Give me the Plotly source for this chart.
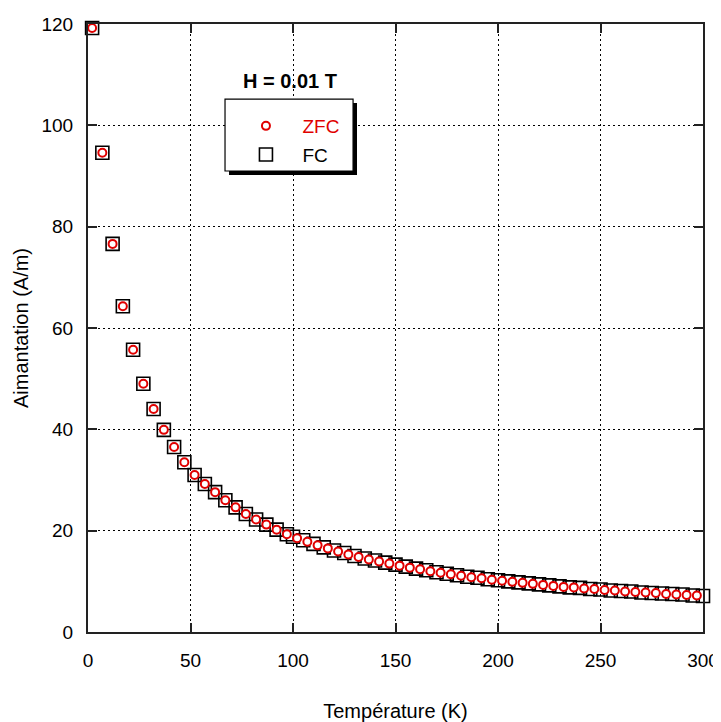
import plotly.graph_objects as go

# ZFC data
T_zfc = [2, 7, 12, 17, 22, 27, 32, 37, 42, 47, 52, 57, 62, 67, 72, 77, 82, 87, 92, 97,
         102, 107, 112, 117, 122, 127, 132, 137, 142, 147, 152, 157, 162, 167, 172, 177,
         182, 187, 192, 197, 202, 207, 212, 217, 222, 227, 232, 237, 242, 247, 252, 257,
         262, 267, 272, 277, 282, 287, 292, 297]
M_zfc = [119.2, 94.6, 76.6, 64.3, 55.7, 49.0, 44.0, 39.9, 36.5, 33.5, 31.0, 29.2, 27.6, 26.0,
         24.6, 23.3, 22.2, 21.2, 20.2, 19.3, 18.5, 17.8, 17.1, 16.5, 15.9, 15.3, 14.8, 14.3,
         13.9, 13.5, 13.1, 12.7, 12.4, 12.0, 11.7, 11.4, 11.1, 10.8, 10.6, 10.3, 10.1, 9.9,
         9.7, 9.5, 9.3, 9.1, 8.9, 8.8, 8.6, 8.5, 8.3, 8.2, 8.0, 7.9, 7.8, 7.7, 7.5, 7.4,
         7.3, 7.2]

# FC data
T_fc = [2, 7, 12, 17, 22, 27, 32, 37, 42, 47, 52, 57, 62, 67, 72, 77, 82, 87, 92, 97,
        100, 105, 110, 115, 120, 125, 130, 135, 140, 145, 150, 155, 160, 165, 170, 175,
        180, 185, 190, 195, 200, 205, 210, 215, 220, 225, 230, 235, 240, 245, 250, 255,
        260, 265, 270, 275, 280, 285, 290, 295, 300]
M_fc = [119.2, 94.6, 76.6, 64.3, 55.7, 49.0, 44.0, 39.9, 36.5, 33.5, 31.0, 29.2, 27.6, 26.0,
        24.6, 23.3, 22.2, 21.2, 20.2, 19.3, 18.8, 18.1, 17.4, 16.7, 16.1, 15.6, 15.0, 14.5,
        14.1, 13.7, 13.3, 12.9, 12.5, 12.2, 11.8, 11.5, 11.2, 10.9, 10.7, 10.4, 10.2, 10.0,
        9.8, 9.6, 9.4, 9.2, 9.0, 8.8, 8.7, 8.5, 8.4, 8.2, 8.1, 8.0, 7.8, 7.7, 7.6, 7.5,
        7.4, 7.2, 7.1]

x_ticks = [0, 50, 100, 150, 200, 250, 300]
y_ticks = [0, 20, 40, 60, 80, 100, 120]

FONT = "Liberation Sans, Arial, sans-serif"

fig = go.Figure()
fig.add_trace(go.Scatter(
    x=T_fc, y=M_fc, mode="markers", name="FC", legendrank=2, legendgroup="b",
    cliponaxis=False,
    marker=dict(symbol="square-open", size=13, color="black", line=dict(width=1.6, color="black")),
))
fig.add_trace(go.Scatter(
    x=T_zfc, y=M_zfc, mode="markers", name='<span style="color:#e00000">ZFC</span>',
    legendrank=1, legendgroup="a", cliponaxis=False,
    marker=dict(symbol="circle", size=8, color="white", line=dict(width=2, color="#e00000")),
))

# legend box with shadow
fig.add_shape(type="rect", xref="paper", yref="paper",
              x0=0.2293, x1=0.4374, y0=0.7516, y1=0.8701,
              fillcolor="black", line=dict(width=0), layer="above")
fig.add_shape(type="rect", xref="paper", yref="paper",
              x0=0.2228, x1=0.431, y0=0.7582, y1=0.8766,
              fillcolor="white", line=dict(width=1.2, color="black"), layer="above")

fig.add_annotation(text="<b>H = 0.01 T</b>", xref="paper", yref="paper",
                   x=0.329, y=0.906, xanchor="center", yanchor="middle", showarrow=False,
                   font=dict(family=FONT, size=20, color="black"))

axis_common = dict(
    showline=True, linecolor="#222", linewidth=2, mirror="ticks",
    ticks="inside", ticklen=9, tickwidth=1.5, tickcolor="#222",
    showgrid=True, gridcolor="black", gridwidth=1, griddash="2px,3px",
    zeroline=False, automargin=False,
    tickfont=dict(family=FONT, size=19, color="black"),
)

fig.update_xaxes(range=[0, 300], tickvals=x_ticks, ticktext=[str(v) for v in x_ticks],
                 title=dict(text="Température (K)", font=dict(family=FONT, size=20, color="black"),
                            standoff=52),
                 ticklabelstandoff=10, **axis_common)
fig.update_yaxes(range=[0, 120], tickvals=y_ticks, ticktext=[str(v) for v in y_ticks],
                 title=dict(text="Aimantation (A/m)", font=dict(family=FONT, size=20, color="black"),
                            standoff=7),
                 ticklabelstandoff=9, **axis_common)

# the page body has an 8px margin, so the figure is offset by 8px
fig.update_layout(
    width=713, height=714,
    margin=dict(l=80, r=18, t=16, b=90),
    paper_bgcolor="white", plot_bgcolor="white",
    showlegend=True,
    legend=dict(x=0.230, y=0.8635, xanchor="left", yanchor="top",
                bgcolor="rgba(0,0,0,0)", borderwidth=0,
                font=dict(family=FONT, size=19, color="black"),
                itemwidth=63, tracegroupgap=1, traceorder="grouped"),
    font=dict(family=FONT),
)

fig.write_html("out.html")
